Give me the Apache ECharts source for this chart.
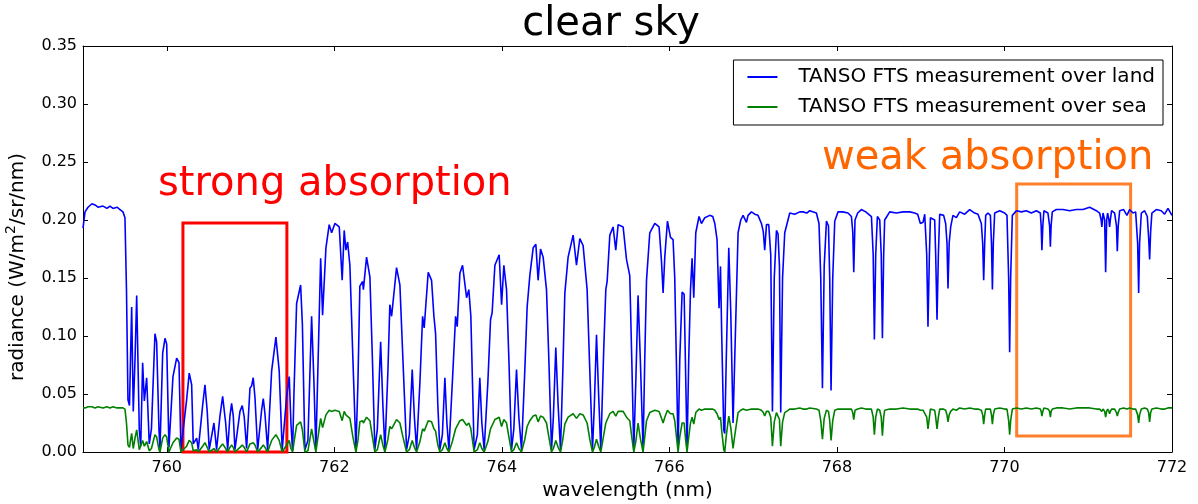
<!DOCTYPE html>
<html>
<head>
<meta charset="utf-8">
<script src="https://cdn.jsdelivr.net/npm/echarts@6/dist/echarts.min.js"></script>
<style>html,body{margin:0;padding:0;background:#fff}#c{width:1198px;height:504px}</style>
</head>
<body>
<div id="c"></div>
<script>
const wavelength = [
759.000,759.024,759.060,759.107,759.143,759.179,759.239,759.286,759.322,759.358,
759.406,759.442,759.477,759.501,759.519,759.537,759.555,759.567,759.581,759.600,
759.621,759.641,759.672,759.689,759.712,759.732,759.760,759.791,759.817,759.859,
759.879,759.907,759.919,759.951,759.979,759.999,760.026,760.074,760.118,760.146,
760.169,760.237,760.268,760.297,760.316,760.357,760.376,760.428,760.456,760.483,
760.507,760.563,760.595,760.635,760.667,760.703,760.727,760.754,760.774,760.794,
760.814,760.874,760.901,760.925,760.953,760.993,761.013,761.032,761.053,761.085,
761.132,761.152,761.172,761.204,761.252,761.303,761.342,761.378,761.431,761.462,
761.482,761.502,761.518,761.550,761.598,761.619,761.649,761.685,761.729,761.757,
761.780,761.837,761.860,761.900,761.939,761.968,762.007,762.059,762.094,762.118,
762.138,762.159,762.186,762.222,762.258,762.282,762.305,762.338,762.347,762.385,
762.425,762.455,762.484,762.514,762.553,762.580,762.604,762.640,762.663,762.684,
762.743,762.783,762.819,762.863,762.896,762.930,762.956,762.982,763.022,763.054,
763.073,763.121,763.161,763.189,763.209,763.236,763.260,763.290,763.320,763.344,
763.368,763.409,763.448,763.467,763.499,763.531,763.579,763.606,763.630,763.669,
763.708,763.737,763.761,763.789,763.833,763.865,763.884,763.917,763.968,763.997,
764.024,764.056,764.084,764.116,764.143,764.175,764.203,764.235,764.274,764.302,
764.334,764.374,764.406,764.433,764.462,764.493,764.533,764.561,764.593,764.615,
764.644,764.672,764.700,764.728,764.752,764.791,764.851,764.891,764.931,764.970,
765.018,765.050,765.082,765.104,765.130,765.155,765.181,765.217,765.241,765.257,
765.289,765.328,765.360,765.388,765.448,765.488,765.527,765.551,765.575,765.599,
765.626,765.653,765.686,765.706,765.727,765.766,765.826,765.877,765.906,765.925,
765.945,765.977,766.013,766.044,766.064,766.104,766.124,766.152,766.176,766.196,
766.211,766.231,766.252,766.271,766.291,766.315,766.354,766.383,766.423,766.482,
766.518,766.542,766.569,766.593,766.610,766.625,766.649,766.661,766.679,766.709,
766.733,766.760,766.780,766.820,766.852,766.880,766.920,766.939,766.980,767.019,
767.058,767.099,767.121,767.138,767.159,767.186,767.210,767.230,767.252,767.278,
767.297,767.314,767.329,767.351,767.377,767.437,767.496,767.556,767.595,767.640,
767.675,767.755,767.786,767.807,767.827,767.848,767.875,767.899,767.914,767.930,
767.950,767.974,768.013,768.069,768.132,768.173,768.189,768.201,768.216,768.248,
768.292,768.344,768.412,768.433,768.447,768.463,768.483,768.511,768.529,768.543,
768.558,768.570,768.630,768.710,768.789,768.869,768.928,768.964,768.996,769.028,
769.048,769.072,769.087,769.104,769.116,769.167,769.179,769.195,769.211,769.227,
769.274,769.298,769.314,769.326,769.340,769.358,769.385,769.426,769.465,769.525,
769.585,769.644,769.684,769.724,769.740,769.752,769.764,769.776,769.803,769.832,
769.845,769.856,769.867,769.883,769.943,770.002,770.030,770.050,770.062,770.074,
770.094,770.142,770.202,770.261,770.321,770.381,770.428,770.438,770.447,770.458,
770.471,770.519,770.539,770.548,770.557,770.571,770.619,770.698,770.778,770.858,
770.937,771.017,771.097,771.136,771.154,771.163,771.176,771.196,771.208,771.220,
771.232,771.247,771.255,771.264,771.279,771.315,771.337,771.347,771.358,771.375,
771.423,771.462,771.494,771.534,771.566,771.590,771.602,771.613,771.634,771.673,
771.705,771.721,771.733,771.745,771.760,771.813,771.872,771.912,771.952,772.000
];
const landRadiance = [
0.193,0.207,0.211,0.214,0.213,0.211,0.212,0.210,0.212,0.210,
0.211,0.209,0.207,0.202,0.140,0.045,0.040,0.080,0.125,0.035,
0.080,0.135,0.019,0.005,0.077,0.044,0.064,0.007,0.020,0.102,
0.095,0.019,0.003,0.085,0.098,0.093,0.004,0.065,0.081,0.077,
0.002,0.045,0.068,0.058,0.007,0.012,0.002,0.040,0.058,0.035,
0.002,0.025,0.002,0.031,0.048,0.025,0.002,0.031,0.042,0.031,
0.002,0.035,0.040,0.030,0.003,0.055,0.057,0.064,0.047,0.002,
0.036,0.046,0.033,0.002,0.070,0.099,0.070,0.002,0.048,0.065,
0.025,0.001,0.050,0.128,0.144,0.110,0.002,0.010,0.117,0.060,
0.002,0.167,0.118,0.176,0.196,0.189,0.197,0.194,0.148,0.191,
0.174,0.181,0.161,0.080,0.002,0.060,0.143,0.147,0.140,0.168,
0.151,0.080,0.002,0.020,0.095,0.040,0.002,0.070,0.127,0.117,
0.159,0.144,0.080,0.002,0.015,0.071,0.030,0.002,0.060,0.117,
0.107,0.155,0.148,0.117,0.102,0.040,0.002,0.015,0.064,0.025,
0.002,0.060,0.117,0.108,0.154,0.161,0.133,0.140,0.117,0.002,
0.015,0.064,0.025,0.002,0.060,0.114,0.120,0.161,0.170,0.127,
0.161,0.140,0.080,0.002,0.020,0.071,0.030,0.002,0.070,0.125,
0.152,0.176,0.179,0.148,0.175,0.168,0.140,0.080,0.002,0.030,
0.090,0.040,0.002,0.070,0.137,0.168,0.187,0.161,0.184,0.178,
0.140,0.070,0.002,0.040,0.101,0.050,0.002,0.090,0.140,0.147,
0.187,0.194,0.174,0.196,0.194,0.166,0.152,0.080,0.002,0.060,
0.135,0.080,0.002,0.080,0.148,0.189,0.197,0.194,0.164,0.137,
0.168,0.199,0.185,0.183,0.150,0.002,0.080,0.138,0.136,0.060,
0.002,0.080,0.140,0.167,0.133,0.189,0.203,0.197,0.202,0.204,
0.203,0.197,0.183,0.124,0.160,0.100,0.019,0.016,0.080,0.176,
0.120,0.025,0.080,0.189,0.200,0.204,0.198,0.204,0.207,0.205,
0.204,0.197,0.190,0.174,0.196,0.196,0.170,0.035,0.150,0.191,
0.188,0.160,0.034,0.150,0.189,0.206,0.205,0.207,0.207,0.206,
0.208,0.206,0.197,0.150,0.055,0.160,0.199,0.195,0.150,0.053,
0.150,0.199,0.207,0.207,0.206,0.203,0.190,0.155,0.200,0.206,
0.209,0.207,0.203,0.170,0.097,0.170,0.203,0.200,0.170,0.098,
0.170,0.200,0.207,0.206,0.207,0.207,0.206,0.205,0.197,0.198,
0.205,0.170,0.108,0.170,0.202,0.200,0.170,0.114,0.170,0.205,
0.204,0.197,0.180,0.141,0.180,0.194,0.204,0.202,0.207,0.205,
0.209,0.206,0.205,0.197,0.180,0.148,0.180,0.204,0.206,0.204,
0.180,0.140,0.180,0.206,0.208,0.206,0.204,0.150,0.086,0.150,
0.204,0.208,0.207,0.208,0.206,0.208,0.206,0.195,0.174,0.195,
0.208,0.206,0.195,0.177,0.195,0.207,0.209,0.209,0.208,0.209,
0.209,0.211,0.208,0.206,0.200,0.194,0.206,0.200,0.155,0.200,
0.206,0.200,0.194,0.200,0.208,0.206,0.195,0.173,0.195,0.208,
0.209,0.204,0.209,0.206,0.207,0.180,0.137,0.180,0.206,0.208,
0.203,0.185,0.166,0.190,0.206,0.209,0.208,0.205,0.210,0.204
];
const seaRadiance = [
0.038,0.038,0.039,0.039,0.038,0.039,0.038,0.039,0.038,0.039,
0.038,0.038,0.038,0.037,0.025,0.006,0.004,0.010,0.016,0.003,
0.012,0.019,0.002,0.001,0.010,0.005,0.009,0.001,0.003,0.015,
0.013,0.002,0.000,0.012,0.015,0.013,0.000,0.008,0.012,0.011,
0.000,0.005,0.010,0.008,0.001,0.002,0.000,0.005,0.008,0.004,
0.000,0.003,0.000,0.004,0.007,0.003,0.000,0.004,0.006,0.004,
0.000,0.004,0.006,0.004,0.000,0.007,0.007,0.008,0.006,0.000,
0.004,0.006,0.004,0.000,0.010,0.015,0.010,0.000,0.006,0.010,
0.003,0.000,0.008,0.023,0.026,0.019,0.000,0.001,0.020,0.009,
0.000,0.029,0.021,0.032,0.036,0.035,0.036,0.035,0.027,0.035,
0.032,0.033,0.029,0.013,0.000,0.010,0.026,0.027,0.025,0.030,
0.027,0.013,0.000,0.002,0.015,0.006,0.000,0.011,0.022,0.020,
0.028,0.025,0.013,0.000,0.002,0.010,0.004,0.000,0.009,0.020,
0.018,0.027,0.026,0.020,0.018,0.006,0.000,0.002,0.008,0.003,
0.000,0.009,0.020,0.019,0.027,0.028,0.023,0.025,0.020,0.000,
0.002,0.008,0.003,0.000,0.009,0.020,0.021,0.028,0.030,0.022,
0.028,0.025,0.013,0.000,0.002,0.008,0.003,0.000,0.011,0.022,
0.027,0.031,0.032,0.026,0.031,0.030,0.025,0.013,0.000,0.003,
0.010,0.004,0.000,0.011,0.024,0.030,0.033,0.029,0.033,0.032,
0.025,0.011,0.000,0.004,0.011,0.005,0.000,0.015,0.025,0.026,
0.033,0.035,0.031,0.035,0.035,0.030,0.027,0.013,0.000,0.009,
0.025,0.012,0.000,0.013,0.027,0.034,0.036,0.035,0.029,0.025,
0.030,0.036,0.033,0.033,0.027,0.000,0.013,0.025,0.025,0.009,
0.000,0.013,0.025,0.030,0.024,0.034,0.037,0.036,0.037,0.037,
0.037,0.036,0.033,0.028,0.030,0.018,0.002,0.000,0.014,0.031,
0.021,0.003,0.014,0.034,0.036,0.037,0.036,0.037,0.037,0.037,
0.037,0.036,0.034,0.031,0.035,0.035,0.030,0.005,0.026,0.034,
0.034,0.028,0.005,0.026,0.034,0.037,0.037,0.038,0.037,0.037,
0.038,0.037,0.036,0.027,0.011,0.029,0.036,0.035,0.027,0.010,
0.027,0.036,0.037,0.037,0.037,0.037,0.034,0.028,0.036,0.037,
0.038,0.037,0.037,0.030,0.015,0.030,0.037,0.036,0.030,0.014,
0.030,0.036,0.037,0.037,0.038,0.037,0.037,0.037,0.036,0.036,
0.037,0.030,0.020,0.030,0.037,0.036,0.030,0.020,0.030,0.037,
0.037,0.036,0.032,0.026,0.032,0.035,0.037,0.036,0.038,0.037,
0.038,0.037,0.037,0.036,0.032,0.024,0.032,0.037,0.037,0.037,
0.032,0.024,0.032,0.037,0.038,0.037,0.037,0.027,0.015,0.027,
0.037,0.038,0.037,0.038,0.037,0.038,0.037,0.035,0.031,0.035,
0.038,0.037,0.035,0.030,0.035,0.037,0.038,0.038,0.037,0.038,
0.038,0.038,0.037,0.037,0.036,0.035,0.037,0.035,0.030,0.035,
0.037,0.035,0.033,0.035,0.037,0.037,0.034,0.031,0.034,0.037,
0.038,0.037,0.038,0.037,0.037,0.032,0.025,0.032,0.037,0.038,
0.037,0.034,0.026,0.034,0.037,0.038,0.037,0.037,0.038,0.038
];
const xTickValues = [760, 762, 764, 766, 768, 770, 772];
const seriesNames = ['TANSO FTS measurement over land', 'TANSO FTS measurement over sea'];
// annotation boxes in data units: [x0, y0, x1, y1]
const strongBox = [760.193, 0.0, 761.434, 0.1974];
const weakBox = [770.146, 0.0138, 771.506, 0.231];
const strongLabel = 'strong absorption';
const weakLabel = 'weak absorption';

const FONT = 'DejaVu Sans';
const chart = echarts.init(document.getElementById('c'), null, {renderer: 'canvas'});

const axisCommon = {
  axisLine: {show: true, onZero: false, lineStyle: {color: '#000', width: 1}},
  splitLine: {show: false}
};

chart.setOption({
  animation: false,
  backgroundColor: '#fff',
  textStyle: {fontFamily: FONT},
  title: {
    text: 'clear sky', left: 606, top: 0, textAlign: 'center',
    textStyle: {fontSize: 40, fontWeight: 'normal', color: '#000', fontFamily: FONT}
  },
  grid: {left: 83, right: 26, top: 46, bottom: 52, containLabel: false, outerBoundsMode: 'none'},
  legend: {
    data: seriesNames,
    orient: 'vertical', right: 35, top: 60,
    backgroundColor: '#fff', borderColor: '#000', borderWidth: 1, borderRadius: 0,
    padding: [7, 8, 8, 14],
    itemWidth: 30, itemHeight: 2, itemGap: 10, icon: 'rect',
    textStyle: {fontSize: 20, color: '#000', fontFamily: FONT, lineHeight: 20, padding: [0, 0, 0, 16]}
  },
  xAxis: [
    Object.assign({}, axisCommon, {
      type: 'value', min: 759, max: 772, position: 'bottom',
      axisTick: {show: true, inside: true, length: 5, customValues: xTickValues, lineStyle: {color: '#000'}},
      axisLabel: {show: true, customValues: xTickValues, fontSize: 16, color: '#000', margin: 8, fontFamily: FONT},
      name: 'wavelength (nm)', nameLocation: 'middle', nameGap: 28,
      nameTextStyle: {fontSize: 20, color: '#000', fontFamily: FONT}
    }),
    Object.assign({}, axisCommon, {
      type: 'value', min: 759, max: 772, position: 'top',
      axisTick: {show: true, inside: true, length: 5, customValues: xTickValues, lineStyle: {color: '#000'}},
      axisLabel: {show: false}
    })
  ],
  yAxis: [
    Object.assign({}, axisCommon, {
      type: 'value', min: 0, max: 0.35, interval: 0.05, position: 'left',
      axisTick: {show: true, inside: true, length: 5, lineStyle: {color: '#000'}},
      axisLabel: {fontSize: 16, color: '#000', margin: 6, fontFamily: FONT, formatter: v => v.toFixed(2)},
      name: 'radiance (W/m{sup|2}/sr/nm)', nameLocation: 'middle', nameGap: 50, nameRotate: 90,
      nameTextStyle: {
        fontSize: 20, color: '#000', fontFamily: FONT, lineHeight: 26, padding: [0, 36, 0, 0],
        rich: {sup: {fontSize: 14, lineHeight: 14, verticalAlign: 'top', color: '#000', fontFamily: FONT}}
      }
    }),
    Object.assign({}, axisCommon, {
      type: 'value', min: 0, max: 0.35, interval: 0.05, position: 'right',
      axisTick: {show: true, inside: true, length: 5, lineStyle: {color: '#000'}},
      axisLabel: {show: false}
    })
  ],
  series: [
    {
      name: seriesNames[0], type: 'line', xAxisIndex: 0, yAxisIndex: 0,
      data: wavelength.map((w, i) => [w, landRadiance[i]]),
      showSymbol: false, symbol: 'none', color: '#0000ff',
      lineStyle: {color: '#0000ff', width: 1.6}, z: 2
    },
    {
      name: seriesNames[1], type: 'line', xAxisIndex: 0, yAxisIndex: 0,
      data: wavelength.map((w, i) => [w, seaRadiance[i]]),
      showSymbol: false, symbol: 'none', color: '#008000',
      lineStyle: {color: '#008000', width: 1.6}, z: 3
    },
    {
      name: 'boxes', type: 'line', xAxisIndex: 0, yAxisIndex: 0, data: [], z: 5,
      markArea: {
        silent: true,
        data: [
          [{xAxis: strongBox[0], yAxis: strongBox[1], itemStyle: {color: 'rgba(0,0,0,0)', borderColor: '#ff0000', borderWidth: 3}},
           {xAxis: strongBox[2], yAxis: strongBox[3]}],
          [{xAxis: weakBox[0], yAxis: weakBox[1], itemStyle: {color: 'rgba(0,0,0,0)', borderColor: '#ff7f2a', borderWidth: 3}},
           {xAxis: weakBox[2], yAxis: weakBox[3]}]
        ]
      }
    }
  ],
  graphic: [
    {type: 'text', left: 158, top: 165, z: 10, style: {text: strongLabel, fill: '#ff0000', fontSize: 40, fontFamily: FONT}},
    {type: 'text', left: 822, top: 139, z: 10, style: {text: weakLabel, fill: '#ff6600', fontSize: 40, fontFamily: FONT}}
  ]
});
</script>
</body>
</html>
